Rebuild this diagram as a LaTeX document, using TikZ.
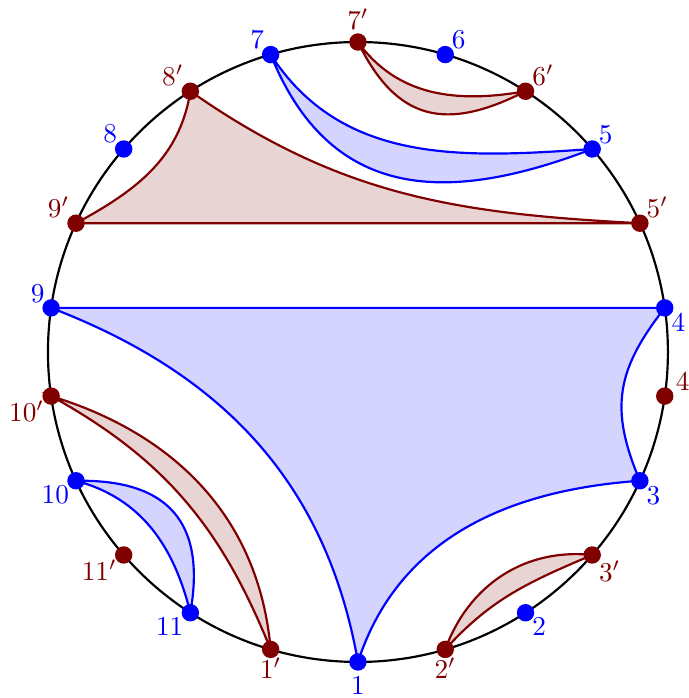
\documentclass[tikz,border=0pt]{standalone}
\usepackage{tikz}
\usetikzlibrary{calc}
\definecolor{chordBlue}{HTML}{0000FF}
\definecolor{chordMaroon}{HTML}{800000}
\tikzset{
  rim/.style   = {draw=black, thick},
  bdot/.style  = {circle, fill=chordBlue, inner sep=0pt, minimum size=6.4pt},
  rdot/.style  = {circle, fill=chordMaroon, inner sep=0pt, minimum size=6.4pt},
  bpoly/.style = {draw=chordBlue, thick, fill=chordBlue!17},
  rpoly/.style = {draw=chordMaroon, thick, fill=chordMaroon!17},
  blbl/.style  = {text=chordBlue, inner sep=1.5pt},
  rlbl/.style  = {text=chordMaroon, inner sep=1.5pt}
}

\begin{document}
\begin{tikzpicture}
  \useasboundingbox (-4.619,-4.465) rectangle (4.271,4.542);
  \def\R{4}
  \draw[rim] (0,0) circle (\R);

  \foreach \n/\a in {1/270, 2/302.73, 3/335.45, 4/8.18, 5/40.91, 6/73.64,
                     7/106.36, 8/139.09, 9/171.82, 10/204.55, 11/237.27}
    \coordinate (b\n) at (\a:\R);
  \foreach \n/\a in {1/253.64, 2/286.36, 3/319.09, 4/351.82, 5/24.55, 6/57.27,
                     7/90, 8/122.73, 9/155.45, 10/188.18, 11/220.91}
    \coordinate (r\n) at (\a:\R);

  % blue blocks
  \filldraw[bpoly] (b9) -- (b4) to[out=232, in=113, looseness=1.15] (b3)
    to[out=184, in=72] (b1) to[out=100, in=339] (b9) -- cycle;
  \filldraw[bpoly] (b7) to[out=-57, in=184] (b5)
    to[out=201, in=-68, looseness=1.2] (b7) -- cycle;
  \filldraw[bpoly] (b10) to[out=1, in=80, looseness=1.35] (b11)
    to[out=104, in=-15] (b10) -- cycle;

  % maroon blocks
  \filldraw[rpoly] (r8) to[out=261, in=28.5] (r9) -- (r5)
    to[out=177, in=-35] (r8) -- cycle;
  \filldraw[rpoly] (r7) to[out=-54, in=190] (r6)
    to[out=207, in=-64, looseness=1.3] (r7) -- cycle;
  \filldraw[rpoly] (r2) to[out=70, in=174] (r3) to[out=203, in=48] (r2) -- cycle;
  \filldraw[rpoly] (r10) to[out=-17, in=95] (r1) to[out=112, in=-29] (r10) -- cycle;

  \foreach \n/\p/\d in {1/270/0.5, 2/-20/-2.5, 3/-30/-2.5, 4/-25/-2.5, 5/30/-2.5,
                        6/30/-2.5, 7/145/-2.5, 8/145/-2.5, 9/150/-2.5,
                        10/190/-2.5, 11/190/-2.5}
    \node[bdot, label={[blbl, label distance=\d pt]\p:$\n$}] (bd\n) at (b\n) {};
  \foreach \n/\p/\d in {1/270/-2, 2/270/-2, 3/-25/-2.5, 4/5/-1, 5/25/-2.5,
                        6/25/-2.5, 7/90/-0.6, 8/155/-2.5, 9/155/-2.5,
                        10/190/-2.5, 11/190/-2.5}
    \node[rdot, label={[rlbl, label distance=\d pt]\p:$\n'$}] (rd\n) at (r\n) {};
\end{tikzpicture}
\end{document}
